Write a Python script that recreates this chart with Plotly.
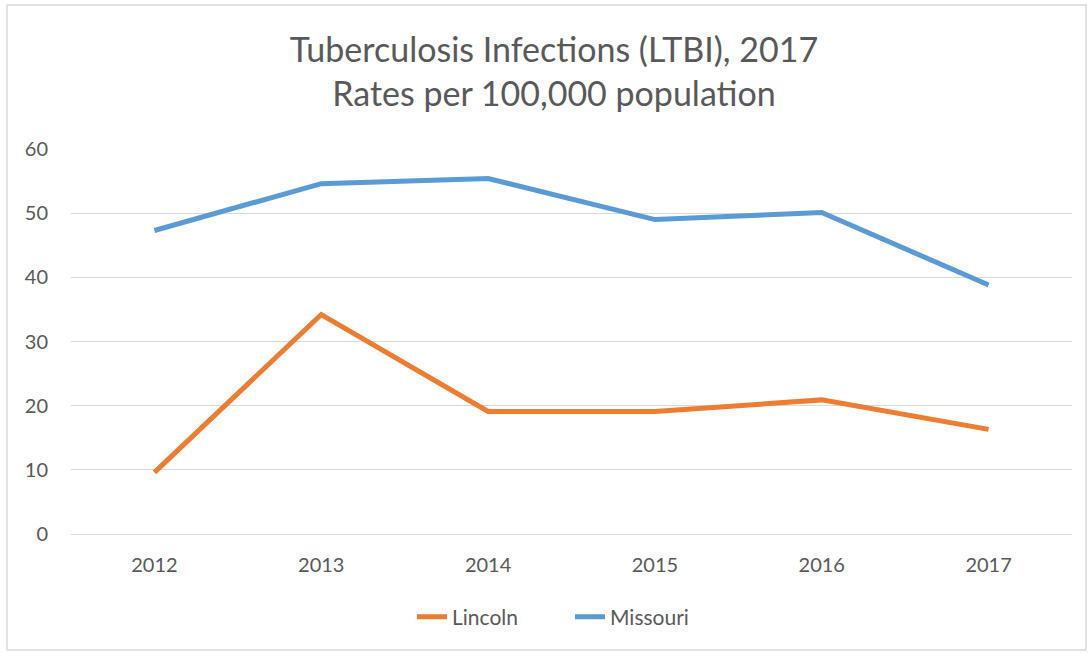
import plotly.graph_objects as go

years = ["2012", "2013", "2014", "2015", "2016", "2017"]
lincoln = [9.6, 34.2, 19.1, 19.1, 20.9, 16.3]
missouri = [47.3, 54.6, 55.4, 49.0, 50.1, 38.8]
y_ticks = [0, 10, 20, 30, 40, 50, 60]

W, H = 1092, 653
ML, MR, MT, MB = 71, 20, 149, 119
PW, PH = W - ML - MR, H - MT - MB

TEXT = "#595959"
FONT = "Lato"

fig = go.Figure()
fig.add_trace(go.Scatter(x=years, y=lincoln, name="Lincoln", mode="lines",
                         line=dict(color="#ED7D31", width=5)))
fig.add_trace(go.Scatter(x=years, y=missouri, name="Missouri", mode="lines",
                         line=dict(color="#5B9BD5", width=5)))

def px_x(p):
    return (p - ML) / PW

def px_y(p):
    return (H - MB - p) / PH

fig.update_layout(
    width=W, height=H,
    margin=dict(l=ML, r=MR, t=MT, b=MB),
    paper_bgcolor="white", plot_bgcolor="white",
    font=dict(family=FONT, color=TEXT),
    title=dict(text="Tuberculosis Infections (LTBI), 2017<br>Rates per 100,000 population",
               x=554 / W, xanchor="center", xref="container", y=1 - 62 / H, yanchor="middle",
               font=dict(size=34, color=TEXT, family=FONT)),
    showlegend=True,
    legend=dict(orientation="h", x=px_x(570), xanchor="center", y=px_y(617), yanchor="middle",
                font=dict(size=21, color=TEXT), entrywidth=113, entrywidthmode="pixels",
                traceorder="normal"),
    xaxis=dict(type="category", range=[-0.5, 5.5], showgrid=False, showline=True,
               linecolor="#D9D9D9", linewidth=1, ticks="", tickfont=dict(size=20, color=TEXT),
               ticklabelstandoff=13, fixedrange=True),
    yaxis=dict(range=[0, 60], tickvals=y_ticks, showgrid=True, gridcolor="#D9D9D9",
               gridwidth=1, zeroline=False, showline=False, ticks="",
               tickfont=dict(size=20, color=TEXT), ticklabelstandoff=22, fixedrange=True),
    shapes=[dict(type="rect", xref="paper", yref="paper",
                 x0=px_x(7), x1=px_x(1086), y0=px_y(650), y1=px_y(5),
                 line=dict(color="#D9D9D9", width=1.5), fillcolor="rgba(0,0,0,0)", layer="below")],
)

fig.write_html("out.html")
